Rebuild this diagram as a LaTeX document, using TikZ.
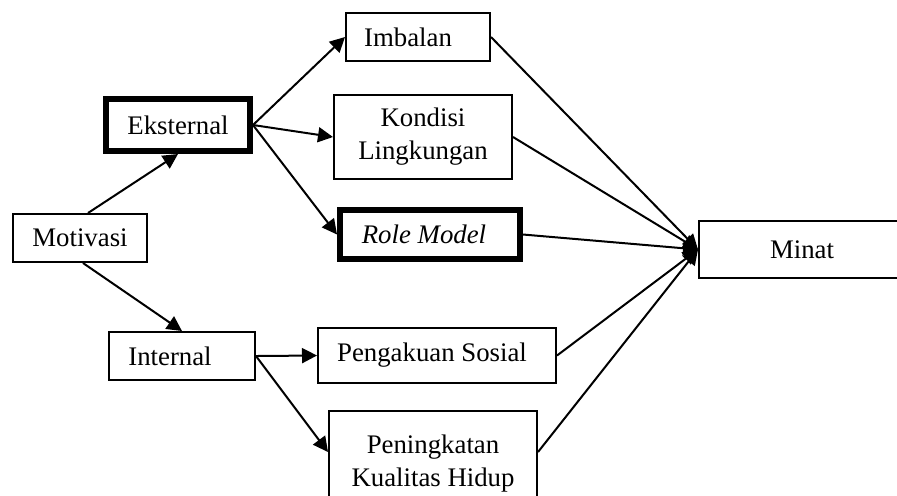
\documentclass[tikz,border=0pt]{standalone}
\usepackage{fontspec}
\setmainfont{Liberation Serif}
\usetikzlibrary{arrows.meta}
\begin{document}
\begin{tikzpicture}[x=0.5pt,y=-0.5pt,
  box/.style={draw, line width=1pt, inner sep=0pt, align=center, font=\fontsize{13.4}{16.5}\selectfont},
  thickbox/.style={box, line width=3pt},
  conn/.style={line width=1pt, -{Triangle[length=7.5pt,width=7.5pt]}}]
\useasboundingbox (0,0) rectangle (897,495);
\node[box, minimum width=67pt, minimum height=24pt] (mot) at (80,238) {Motivasi};
\node[thickbox, minimum width=72pt, minimum height=26pt] (eks) at (178,125) {Eksternal};
\node[box, minimum width=73pt, minimum height=24pt] (int) at (182,356) {Internal\hspace{12pt}};
\node[box, minimum width=72pt, minimum height=24pt] (imb) at (418,37) {Imbalan\hspace{10pt}};
\node[box, minimum width=89pt, minimum height=42pt] (kon) at (423,137) {Kondisi\\Lingkungan};
\node[thickbox, minimum width=90pt, minimum height=24.5pt] (rm) at (430,234.5) {\textit{Role Model}\hspace{6pt}};
\node[box, minimum width=119pt, minimum height=27.5pt] (pen) at (437,355.5) {Pengakuan Sosial\hspace{5pt}};
\node[box, minimum width=104pt, minimum height=53pt] (pkh) at (433,464) {Peningkatan\\Kualitas Hidup};
\node[box, minimum width=103pt, minimum height=28.5pt] (min) at (802,249.5) {Minat};
\draw[conn] ([xshift=4pt]mot.north) -- (eks.south);
\draw[conn] ([xshift=1.5pt]mot.south) -- (int.north);
\draw[conn] (eks.east) -- (imb.west);
\draw[conn] (eks.east) -- (kon.west);
\draw[conn] (eks.east) -- (rm.west);
\draw[conn] (int.east) -- (pen.west);
\draw[conn] (int.east) -- ([yshift=6pt]pkh.west);
\draw[conn] (imb.east) -- (min.west);
\draw[conn] (kon.east) -- (min.west);
\draw[conn] (rm.east) -- (min.west);
\draw[conn] (pen.east) -- (min.west);
\draw[conn] ([yshift=6pt]pkh.east) -- (min.west);
\end{tikzpicture}
\end{document}
